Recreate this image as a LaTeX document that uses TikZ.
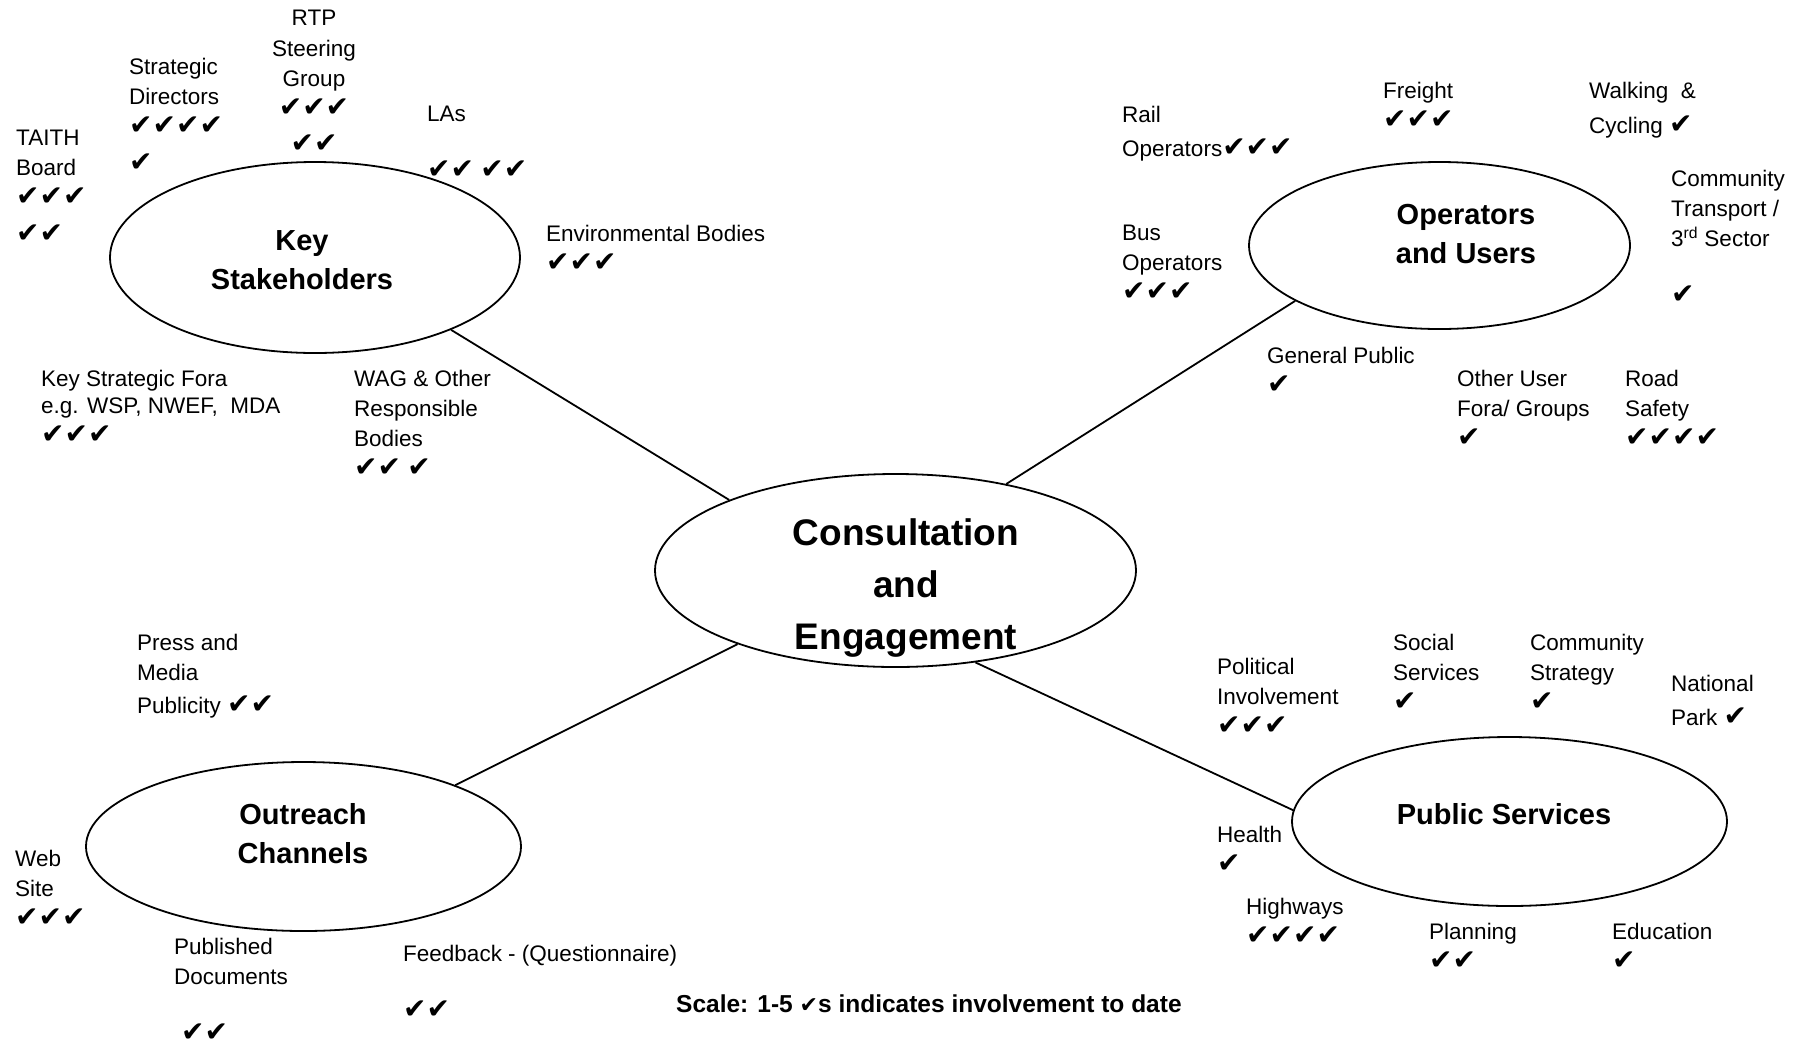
\documentclass[tikz,border=0pt]{standalone}
\usepackage{fontspec}
\setmainfont{Liberation Sans}
\newfontfamily\ckfont{DejaVu Sans}
\usetikzlibrary{shapes.geometric}
\newcommand\lblfont{\fontsize{22.5}{30}\selectfont}
\newcommand\ttlfont{\fontsize{29}{39}\selectfont\bfseries}
\newcommand\bigttlfont{\fontsize{37}{52}\selectfont\bfseries}
\newcommand\ck{{\ckfont\fontsize{28}{30}\selectfont ✔}}
\tikzset{
  lab/.style={anchor=north west, inner sep=0pt, align=left, font=\lblfont, yshift=-6pt, execute at begin node=\strut},
  labc/.style={lab, anchor=north, align=center},
  ttl/.style={anchor=north, inner sep=0pt, align=center, font=\ttlfont, execute at begin node=\strut},
  blob/.style={ellipse, draw, line width=1.8pt, inner sep=0pt},
  link/.style={line width=1.8pt},
}
\begin{document}
\begin{tikzpicture}[x=1pt,y=-1pt]
\fill[white] (0,0) rectangle (1809,1045);
\useasboundingbox (0,0) rectangle (1809,1045);

% ellipses
\node[blob, minimum width=410pt, minimum height=191pt] (ks) at (315,257.5) {};
\node[blob, minimum width=381pt, minimum height=167pt] (ou) at (1439.5,245.5) {};
\node[blob, minimum width=481pt, minimum height=193pt] (ce) at (895.5,570.5) {};
\node[blob, minimum width=435pt, minimum height=169pt] (oc) at (303.5,846.5) {};
\node[blob, minimum width=435pt, minimum height=169pt] (ps) at (1509.5,821.5) {};

% connectors
\draw[link] (ks.-28.4) -- (ce.157.2);
\draw[link] (ou.201.6) -- (ce.38.4);
\draw[link] (oc.22.7) -- (ce.205);
\draw[link] (ps.177) -- (ce.-49.1);

% titles
\node[ttl] (ksT) at (302,230.7) {Key\\Stakeholders};
\node[ttl] (ouT) at (1466,203.7) {Operators\\and Users};
\node[ttl] (ocT) at (303,803.7) {Outreach\\Channels};
\node[ttl] (psT) at (1504,797) {Public Services};
\node[ttl, font=\bigttlfont] (ceT) at (906,518) {Consultation\\and\\Engagement};

% key stakeholders labels
\node[labc] (rtp) at (314,4) {RTP\\[1pt]Steering\\Group\\\ck\ck\ck\\[6pt]\ck\ck};
\node[lab] (sd) at (129,52) {Strategic\\Directors\\\ck\ck\ck\ck\\[7pt]\ck};
\node[lab] (taith) at (16,124) {TAITH\\Board\\\ck\ck\ck\\[7pt]\ck\ck};
\node[lab] (las) at (427,100) {LAs\\[27pt]\ck\ck\ \ck\ck};
\node[lab] (env) at (546,219) {Environmental Bodies\\\ck\ck\ck};
\node[lab] (ksf) at (41,364) {Key Strategic Fora\\[-3pt]e.g. WSP, NWEF,\ \ MDA\\\ck\ck\ck};
\node[lab] (wag) at (354,364) {WAG \& Other\\Responsible\\Bodies\\\ck\ck\ \ck};

% operators and users labels
\node[lab] (rail) at (1122,100) {Rail\\[4pt]Operators\ck\ck\ck};
\node[lab] (freight) at (1383,76) {Freight\\\ck\ck\ck};
\node[lab] (walk) at (1589,76) {Walking\ \ \&\\[5pt]Cycling \ck};
\node[lab] (comm) at (1671,164) {Community\\Transport /\\3\textsuperscript{rd} Sector\\[27pt]\ck};
\node[lab] (bus) at (1122,219) {Bus\\Operators\\\ck\ck\ck};
\node[lab] (gp) at (1267,341) {General Public\\\ck};
\node[lab] (other) at (1457,364) {Other User\\Fora/ Groups\\\ck};
\node[lab] (road) at (1625,364) {Road\\Safety\\\ck\ck\ck\ck};

% outreach labels
\node[lab] (press) at (137,628) {Press and\\Media\\[3pt]Publicity \ck\ck};
\node[lab] (web) at (15,844) {Web\\Site\\\ck\ck\ck};
\node[lab] (pub) at (174,932) {Published\\Documents\\[27pt]\hspace*{7pt}\ck\ck};
\node[lab] (feed) at (403,939) {Feedback - (Questionnaire)\\[27pt]\ck\ck};

% public services labels
\node[lab] (pol) at (1217,652) {Political\\Involvement\\\ck\ck\ck};
\node[lab] (soc) at (1393,628) {Social\\Services\\\ck};
\node[lab] (cs) at (1530,628) {Community\\Strategy\\\ck};
\node[lab] (np) at (1671,669) {National\\[4pt]Park \ck};
\node[lab] (health) at (1217,820) {Health\\\ck};
\node[lab] (hw) at (1246,892) {Highways\\\ck\ck\ck\ck};
\node[lab] (plan) at (1429,917) {Planning\\\ck\ck};
\node[lab] (edu) at (1612,917) {Education\\\ck};

% scale note
\node[anchor=base west, inner sep=0pt, font=\fontsize{24.5}{28}\selectfont\bfseries] (scale) at (676,1012)
  {Scale: 1-5 {\ckfont\fontsize{22}{28}\selectfont ✔}s indicates involvement to date};
\end{tikzpicture}
\end{document}
